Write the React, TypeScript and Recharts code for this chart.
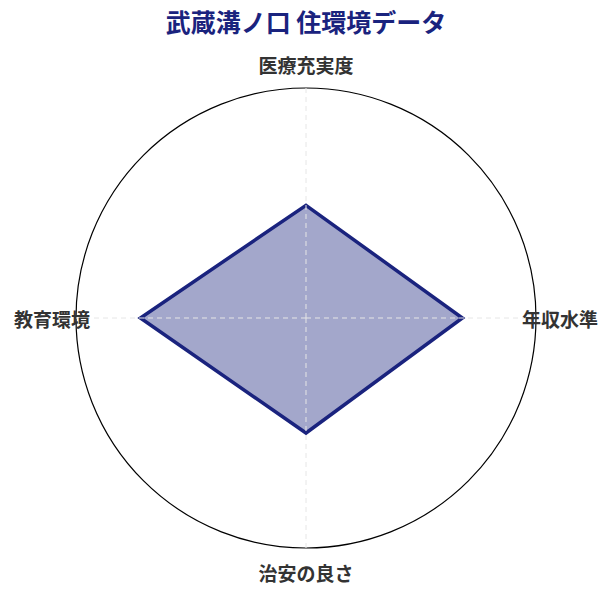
import { PolarAngleAxis, PolarGrid, PolarRadiusAxis, Radar, RadarChart } from "recharts";

const TITLE = "武蔵溝ノ口 住環境データ";
const CATEGORIES = ["医療充実度", "年収水準", "治安の良さ", "教育環境"];
const SCORES = [49, 68, 50, 72];
const DOMAIN_MAX = 100;

const data = CATEGORIES.map((name, i) => ({ name, score: SCORES[i] }));

const CX = 306;
const CY = 318;
const R = 230;
const LABEL_R = 254;

const FONT = "'Noto Sans CJK JP', 'Noto Sans', sans-serif";

// label + dashed spoke (spoke drawn here so it sits above the filled area)
function AxisTick(props: any) {
  const { x, y, payload } = props;
  const dx = x - CX;
  const dy = y - CY;
  const len = Math.hypot(dx, dy) || 1;
  const ux = dx / len;
  const uy = dy / len;
  return (
    <g>
      <line
        x1={CX}
        y1={CY}
        x2={CX + ux * R}
        y2={CY + uy * R}
        stroke="#e6e6e6"
        strokeDasharray="5 4"
        strokeWidth={1}
      />
      <text
        x={CX + ux * LABEL_R}
        y={CY + uy * LABEL_R}
        textAnchor="middle"
        dominantBaseline="central"
        fontSize={19}
        fontWeight={700}
        fill="#333333"
        fontFamily={FONT}
      >
        {payload.value}
      </text>
    </g>
  );
}

export default function App() {
  return (
    <div style={{ position: "absolute", left: 0, top: 0, width: 612, height: 595, background: "#fff" }}>
      <div
        style={{
          position: "absolute",
          top: 4,
          left: 0,
          width: 612,
          textAlign: "center",
          fontFamily: FONT,
          fontSize: 25,
          fontWeight: 700,
          color: "#1a237e",
          lineHeight: "34px",
        }}
      >
        {TITLE}
      </div>
      <RadarChart
        width={612}
        height={595}
        data={data}
        cx={CX}
        cy={CY}
        outerRadius={R}
        startAngle={90}
        endAngle={-270}
        margin={{ top: 0, right: 0, bottom: 0, left: 0 }}
      >
        <PolarRadiusAxis domain={[0, DOMAIN_MAX]} tick={false} axisLine={false} />
        <PolarGrid gridType="circle" polarRadius={[R]} radialLines={false} stroke="#000" strokeWidth={1.2} />
        <Radar
          dataKey="score"
          stroke="#1a237e"
          strokeWidth={3.5}
          fill="#1a237e"
          fillOpacity={0.4}
          isAnimationActive={false}
        />
        <PolarAngleAxis dataKey="name" tick={<AxisTick />} tickLine={false} axisLine={false} />
      </RadarChart>
    </div>
  );
}
